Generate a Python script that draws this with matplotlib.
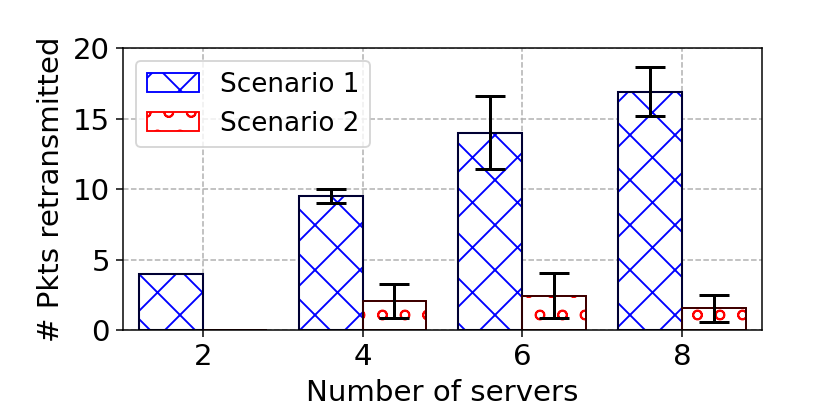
import matplotlib.pyplot as plt
import numpy as np

servers = [2, 4, 6, 8]
scen1 = [4.0, 9.5, 14.0, 16.9]
scen1_err = [0.0, 0.5, 2.6, 1.75]
scen2 = [0.0, 2.05, 2.43, 1.55]
scen2_err = [0.0, 1.2, 1.6, 0.95]

width = 0.8
x = np.array(servers)
fs = 15.6

fig = plt.figure(figsize=(814 / 135, 407 / 135), dpi=135)
ax = fig.add_axes([0.151, 0.189, 0.785, 0.693])

# hatched bars (coloured edges), then darker outlines on top
ax.bar(x - width, scen1, width, align='edge', color='white', edgecolor='blue',
       hatch='x', linewidth=1, label='Scenario 1')
ax.bar(x, scen2, width, align='edge', color='white', edgecolor='red',
       hatch='o', linewidth=1, label='Scenario 2')
ax.bar(x - width, scen1, width, align='edge', fill=False, edgecolor='#000033', linewidth=1.1)
ax.bar(x, scen2, width, align='edge', fill=False, edgecolor='#330000', linewidth=1.0)

# error bars only where there is some spread
e1 = np.array(scen1_err) > 0
e2 = np.array(scen2_err) > 0
ax.errorbar((x - width / 2)[e1], np.array(scen1)[e1], yerr=np.array(scen1_err)[e1],
            fmt='none', ecolor='black', elinewidth=1.6, capsize=8, capthick=1.6)
ax.errorbar((x + width / 2)[e2], np.array(scen2)[e2], yerr=np.array(scen2_err)[e2],
            fmt='none', ecolor='black', elinewidth=1.6, capsize=8, capthick=1.6)

ax.set_xlim(1, 9)
ax.set_ylim(0, 20)
ax.set_xticks(servers)
ax.set_yticks([0, 5, 10, 15, 20])
ax.tick_params(labelsize=fs)
ax.set_xlabel('Number of servers', fontsize=fs)
ax.set_ylabel('# Pkts retransmitted', fontsize=fs)
ax.grid(True, linestyle='--', color='#b0b0b0')
ax.set_axisbelow(True)
ax.legend(loc='upper left', fontsize=14)

fig.savefig('out.png')
